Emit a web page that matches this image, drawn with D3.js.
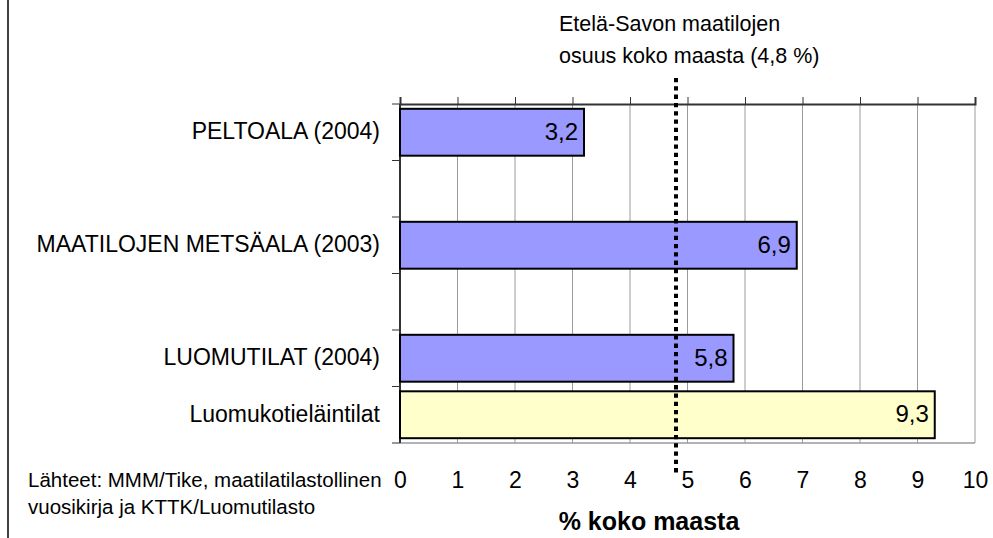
<!DOCTYPE html>
<html>
<head>
<meta charset="utf-8">
<script src="https://cdn.jsdelivr.net/npm/d3@7"></script>
<style>
  html, body { margin: 0; padding: 0; background: #fff; }
  svg { display: block; font-family: "Liberation Sans", Arial, sans-serif; }
</style>
</head>
<body>
<svg id="chart" width="993" height="538"></svg>
<script>
// ---- data ----
const categories = ["PELTOALA (2004)", "MAATILOJEN METSÄALA (2003)", "LUOMUTILAT (2004)", "Luomukotieläintilat"];
const values = [3.2, 6.9, 5.8, 9.3];
const valueLabels = ["3,2", "6,9", "5,8", "9,3"];
const barColors = ["#9999FF", "#9999FF", "#9999FF", "#FFFFCC"];
const slotOrder = ["PELTOALA (2004)", "gap-1", "MAATILOJEN METSÄALA (2003)", "gap-2", "LUOMUTILAT (2004)", "Luomukotieläintilat"];
const xTicks = [0, 1, 2, 3, 4, 5, 6, 7, 8, 9, 10];
const referenceValue = 4.8;
const referenceText = ["Etelä-Savon maatilojen", "osuus koko maasta (4,8 %)"];
const xAxisTitle = "% koko maasta";
const sourceText = ["Lähteet: MMM/Tike, maatilatilastollinen", "vuosikirja ja KTTK/Luomutilasto"];

// ---- layout ----
const svg = d3.select("#chart");
const plotL = 400, plotR = 975, plotT = 104, plotB = 443;

const x = d3.scaleLinear().domain([0, 10]).range([plotL, plotR]);
const y = d3.scaleBand().domain(slotOrder).range([plotT, plotB]).padding(0);
const bw = y.bandwidth();
const barPad = bw * 0.085;

svg.append("rect").attr("width", 993).attr("height", 538).attr("fill", "#fff");

// left frame line
svg.append("line").attr("x1", 8).attr("x2", 8).attr("y1", 0).attr("y2", 538)
  .attr("stroke", "#000").attr("stroke-width", 1.5);

// gridlines
svg.append("g").selectAll("line").data(xTicks).join("line")
  .attr("x1", d => x(d)).attr("x2", d => x(d))
  .attr("y1", plotT).attr("y2", plotB)
  .attr("stroke", "#9a9a9a").attr("stroke-width", 1);

// bottom plot border
svg.append("line").attr("x1", plotL).attr("x2", plotR).attr("y1", plotB).attr("y2", plotB)
  .attr("stroke", "#9a9a9a").attr("stroke-width", 1.5);

// top axis (ticks up)
const topAxis = svg.append("g").attr("transform", `translate(0,${plotT})`)
  .call(d3.axisTop(x).tickValues(xTicks).tickSize(7).tickFormat(""));
topAxis.select(".domain").attr("stroke", "#333").attr("stroke-width", 2);
topAxis.selectAll(".tick line").attr("stroke", "#333").attr("stroke-width", 1);

// left axis (ticks at band boundaries)
const boundaries = slotOrder.map(s => y(s)).concat([plotB]);
svg.append("line").attr("x1", plotL).attr("x2", plotL).attr("y1", plotT).attr("y2", plotB)
  .attr("stroke", "#333").attr("stroke-width", 2);
svg.append("g").selectAll("line").data(boundaries).join("line")
  .attr("x1", plotL - 8).attr("x2", plotL).attr("y1", d => d).attr("y2", d => d)
  .attr("stroke", "#333").attr("stroke-width", 1);

// bars
const rows = categories.map((c, i) => ({ c, v: values[i], lab: valueLabels[i], col: barColors[i] }));
svg.append("g").selectAll("rect").data(rows).join("rect")
  .attr("x", x(0))
  .attr("y", d => y(d.c) + barPad)
  .attr("width", d => x(d.v) - x(0))
  .attr("height", bw - 2 * barPad)
  .attr("fill", d => d.col)
  .attr("stroke", "#000").attr("stroke-width", 2);

// bar value labels
svg.append("g").selectAll("text").data(rows).join("text")
  .attr("x", d => x(d.v) - 6)
  .attr("y", d => y(d.c) + bw / 2 - 1)
  .attr("dy", "0.35em")
  .attr("text-anchor", "end")
  .attr("font-size", 24)
  .attr("fill", "#000")
  .text(d => d.lab);

// category labels
svg.append("g").selectAll("text").data(categories).join("text")
  .attr("x", 380)
  .attr("y", d => y(d) + bw / 2 - 1)
  .attr("dy", "0.35em")
  .attr("text-anchor", "end")
  .attr("font-size", 23)
  .attr("fill", "#000")
  .text(d => d);

// bottom tick labels
const bAxis = svg.append("g").attr("transform", `translate(0,480)`)
  .call(d3.axisBottom(x).tickValues(xTicks).tickSize(0).tickFormat(d3.format("d")));
bAxis.select(".domain").remove();
bAxis.selectAll("text").attr("font-size", 23).attr("font-family", "Liberation Sans, Arial, sans-serif")
  .attr("fill", "#000").attr("dy", "0.35em").attr("y", 0);

// reference dotted line
svg.append("line").attr("x1", x(referenceValue)).attr("x2", x(referenceValue))
  .attr("y1", 78).attr("y2", 473)
  .attr("stroke", "#000").attr("stroke-width", 4).attr("stroke-dasharray", "4.3 4");

// reference annotation
svg.append("g").selectAll("text").data(referenceText).join("text")
  .attr("x", 559).attr("y", (d, i) => 31 + i * 32)
  .attr("font-size", 21.5).attr("fill", "#000").text(d => d);

// x axis title
svg.append("text").attr("x", 649).attr("y", 530).attr("text-anchor", "middle")
  .attr("font-size", 25).attr("font-weight", "bold").attr("fill", "#000").text(xAxisTitle);

// source text
svg.append("g").selectAll("text").data(sourceText).join("text")
  .attr("x", 28).attr("y", (d, i) => 487 + i * 27)
  .attr("font-size", 20.5).attr("fill", "#000").text(d => d);
</script>
</body>
</html>
